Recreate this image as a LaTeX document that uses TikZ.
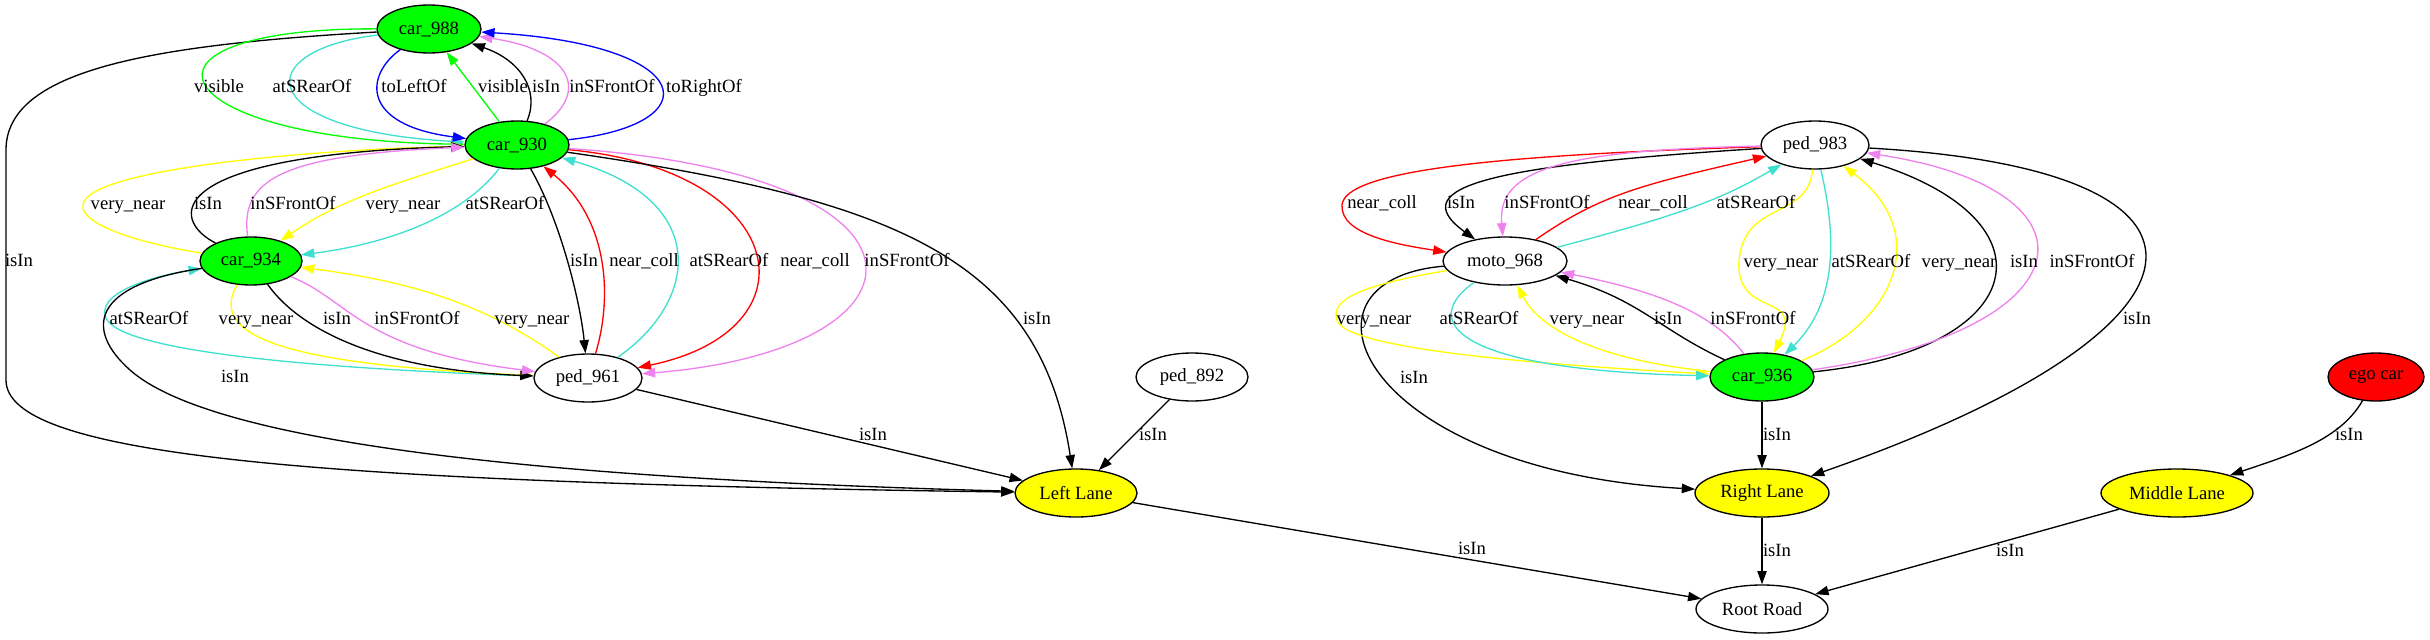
\documentclass[tikz,border=0pt]{standalone}
\usepackage{fontspec}
\setmainfont{Liberation Serif}
\usetikzlibrary{shapes.geometric,arrows.meta}
\definecolor{gvgreen}{HTML}{00FF00}
\definecolor{gvyellow}{HTML}{FFFF00}
\definecolor{gvred}{HTML}{FF0000}
\definecolor{gvblue}{HTML}{0000FF}
\definecolor{gvturq}{HTML}{40E0D0}
\definecolor{gvviolet}{HTML}{EE82EE}
\begin{document}
\begin{tikzpicture}[x=0.75pt,y=-0.75pt,
  vn/.style={ellipse,draw,line width=1pt,inner sep=0pt,minimum height=36pt,font=\fontsize{14}{16}\selectfont},
  rel/.style={line width=1pt,-{Triangle[length=10pt,width=7pt]}},
  lab/.style={font=\fontsize{14}{16}\selectfont,inner sep=0pt,anchor=base}]
\path[use as bounding box] (0,0) rectangle (2430,639);
% nodes
\node[vn,fill=gvgreen,minimum width=78pt] (car988) at (429,29) {car\_988};
\node[vn,fill=gvgreen,minimum width=78pt] (car930) at (517,145) {car\_930};
\node[vn,fill=gvgreen,minimum width=76.5pt] (car934) at (251,261) {car\_934};
\node[vn,minimum width=81pt] (ped961) at (588,378) {ped\_961};
\node[vn,fill=gvyellow,minimum width=91.5pt] (LeftLane) at (1076,493) {Left Lane};
\node[vn,minimum width=84pt] (ped892) at (1192,377) {ped\_892};
\node[vn,minimum width=81pt] (ped983) at (1815,145) {ped\_983};
\node[vn,minimum width=93pt] (moto968) at (1505,261) {moto\_968};
\node[vn,fill=gvgreen,minimum width=78pt] (car936) at (1762,377) {car\_936};
\node[vn,fill=gvyellow,minimum width=100.5pt] (RightLane) at (1762,493) {Right Lane};
\node[vn,fill=gvyellow,minimum width=114pt] (MiddleLane) at (2177,493) {Middle Lane};
\node[vn,fill=gvred,minimum width=72pt] (egocar) at (2376,377) {ego car};
\node[vn,minimum width=99pt] (RootRoad) at (1762,609) {Root Road};

% ---- left cluster edges
\draw[rel] (car988) .. controls (150,45) and (6,70) .. (6,150) -- (6,380) .. controls (6,455) and (300,482) .. (LeftLane);
\draw[rel,gvgreen] (car988) .. controls (110,28) and (160,140) .. (car930);
\draw[rel,gvturq] (car988) .. controls (250,50) and (250,130) .. (car930);
\draw[rel,gvblue] (car988) .. controls (365,75) and (360,125) .. (car930);
\draw[rel,gvgreen] (car930) -- (car988);
\draw[rel] (car930) .. controls (540,90) and (520,60) .. (car988);
\draw[rel,gvviolet] (car930) .. controls (590,90) and (570,50) .. (car988);
\draw[rel,gvblue] (car930) .. controls (710,125) and (700,45) .. (car988);

\draw[rel,gvyellow] (car934) .. controls (120,240) and (80,220) .. (83,205) .. controls (86,170) and (300,150) .. (car930);
\draw[rel] (car934) .. controls (170,220) and (160,155) .. (car930);
\draw[rel,gvviolet] (car934) .. controls (240,180) and (280,155) .. (car930);
\draw[rel,gvyellow] (car930) .. controls (390,185) and (340,200) .. (car934);
\draw[rel,gvturq] (car930) .. controls (460,220) and (380,245) .. (car934);

\draw[rel] (car930) .. controls (560,220) and (580,300) .. (ped961);
\draw[rel,gvred] (ped961) .. controls (612,300) and (610,220) .. (car930);
\draw[rel,gvturq] (ped961) .. controls (700,300) and (710,200) .. (car930);
\draw[rel,gvred] (car930) .. controls (790,170) and (820,330) .. (ped961);
\draw[rel,gvviolet] (car930) .. controls (960,175) and (940,350) .. (ped961);
\draw[rel] (car930) .. controls (900,200) and (1040,260) .. (LeftLane);

\draw[rel,gvyellow] (ped961) .. controls (480,300) and (400,280) .. (car934);
\draw[rel,gvturq] (ped961) .. controls (300,368) and (110,350) .. (105,315) .. controls (100,290) and (160,275) .. (car934);
\draw[rel] (car934) .. controls (90,285) and (85,330) .. (130,370) .. controls (220,450) and (600,480) .. (LeftLane);
\draw[rel,gvyellow] (car934) .. controls (205,340) and (300,365) .. (ped961);
\draw[rel] (car934) .. controls (300,330) and (380,370) .. (ped961);
\draw[rel,gvviolet] (car934) .. controls (350,300) and (360,350) .. (ped961);

\draw[rel] (ped961) -- (LeftLane);
\draw[rel] (ped892) -- (LeftLane);
\draw[rel] (LeftLane) -- (RootRoad);

% ---- right cluster edges
\draw[rel,gvred] (ped983) .. controls (1500,155) and (1345,170) .. (1342,205) .. controls (1340,235) and (1400,245) .. (moto968);
\draw[rel] (ped983) .. controls (1500,165) and (1400,185) .. (moto968);
\draw[rel,gvviolet] (ped983) .. controls (1560,150) and (1497,170) .. (moto968);
\draw[rel,gvred] (moto968) .. controls (1600,195) and (1640,185) .. (ped983);
\draw[rel,gvturq] (moto968) .. controls (1680,215) and (1720,200) .. (ped983);

\draw[rel,gvyellow] (ped983) .. controls (1808,220) and (1745,200) .. (1739,260) .. controls (1735,320) and (1805,290) .. (car936);
\draw[rel,gvturq] (ped983) .. controls (1835,230) and (1840,300) .. (car936);
\draw[rel,gvyellow] (car936) .. controls (1900,320) and (1930,230) .. (ped983);
\draw[rel] (car936) .. controls (2030,350) and (2060,220) .. (ped983);
\draw[rel,gvviolet] (car936) .. controls (2090,330) and (2110,190) .. (ped983);
\draw[rel] (ped983) .. controls (2260,170) and (2230,330) .. (RightLane);

\draw[rel] (moto968) .. controls (1280,280) and (1360,470) .. (RightLane);
\draw[rel,gvyellow] (moto968) .. controls (1360,285) and (1330,300) .. (1337,320) .. controls (1345,350) and (1550,365) .. (car936);
\draw[rel,gvturq] (moto968) .. controls (1420,320) and (1450,370) .. (car936);
\draw[rel,gvyellow] (car936) .. controls (1600,360) and (1540,330) .. (moto968);
\draw[rel] (car936) .. controls (1660,330) and (1640,300) .. (moto968);
\draw[rel,gvviolet] (car936) .. controls (1710,310) and (1650,290) .. (moto968);

\draw[rel] (car936) -- (RightLane);
\draw[rel] (RightLane) -- (RootRoad);
\draw[rel] (egocar) .. controls (2340,440) and (2290,455) .. (MiddleLane);
\draw[rel] (MiddleLane) -- (RootRoad);

% ---- labels (left)
\node[lab] (l1) at (19,266) {isIn};
\node[lab] (l2) at (219,92) {visible};
\node[lab] (l3) at (312,92) {atSRearOf};
\node[lab] (l4) at (414,92) {toLeftOf};
\node[lab] (l5) at (503,92) {visible};
\node[lab] (l6) at (546,92) {isIn};
\node[lab] (l7) at (612,92) {inSFrontOf};
\node[lab] (l8) at (704,92) {toRightOf};
\node[lab] (l9) at (128,209) {very\_near};
\node[lab] (l10) at (208,209) {isIn};
\node[lab] (l11) at (293,209) {inSFrontOf};
\node[lab] (l12) at (403,209) {very\_near};
\node[lab] (l13) at (505,209) {atSRearOf};
\node[lab] (l14) at (584,266) {isIn};
\node[lab] (l15) at (644,266) {near\_coll};
\node[lab] (l16) at (729,266) {atSRearOf};
\node[lab] (l17) at (815,266) {near\_coll};
\node[lab] (l18) at (907,266) {inSFrontOf};
\node[lab] (l19) at (1037,324) {isIn};
\node[lab] (l20) at (532,324) {very\_near};
\node[lab] (l21) at (149,324) {atSRearOf};
\node[lab] (l22) at (235,382) {isIn};
\node[lab] (l23) at (256,324) {very\_near};
\node[lab] (l24) at (337,324) {isIn};
\node[lab] (l25) at (417,324) {inSFrontOf};
\node[lab] (l26) at (873,440) {isIn};
\node[lab] (l27) at (1153,440) {isIn};
\node[lab] (l28) at (1472,554) {isIn};
% ---- labels (right)
\node[lab] (r1) at (1382,208) {near\_coll};
\node[lab] (r2) at (1461,208) {isIn};
\node[lab] (r3) at (1547,208) {inSFrontOf};
\node[lab] (r4) at (1653,208) {near\_coll};
\node[lab] (r5) at (1756,208) {atSRearOf};
\node[lab] (r6) at (1781,267) {very\_near};
\node[lab] (r7) at (1871,267) {atSRearOf};
\node[lab] (r8) at (1959,267) {very\_near};
\node[lab] (r9) at (2024,267) {isIn};
\node[lab] (r10) at (2092,267) {inSFrontOf};
\node[lab] (r11) at (2137,324) {isIn};
\node[lab] (r12) at (1374,324) {very\_near};
\node[lab] (r13) at (1479,324) {atSRearOf};
\node[lab] (r14) at (1587,324) {very\_near};
\node[lab] (r15) at (1668,324) {isIn};
\node[lab] (r16) at (1753,324) {inSFrontOf};
\node[lab] (r17) at (1414,383) {isIn};
\node[lab] (r18) at (1777,440) {isIn};
\node[lab] (r19) at (2349,440) {isIn};
\node[lab] (r20) at (1777,556) {isIn};
\node[lab] (r21) at (2010,556) {isIn};
\end{tikzpicture}
\end{document}
